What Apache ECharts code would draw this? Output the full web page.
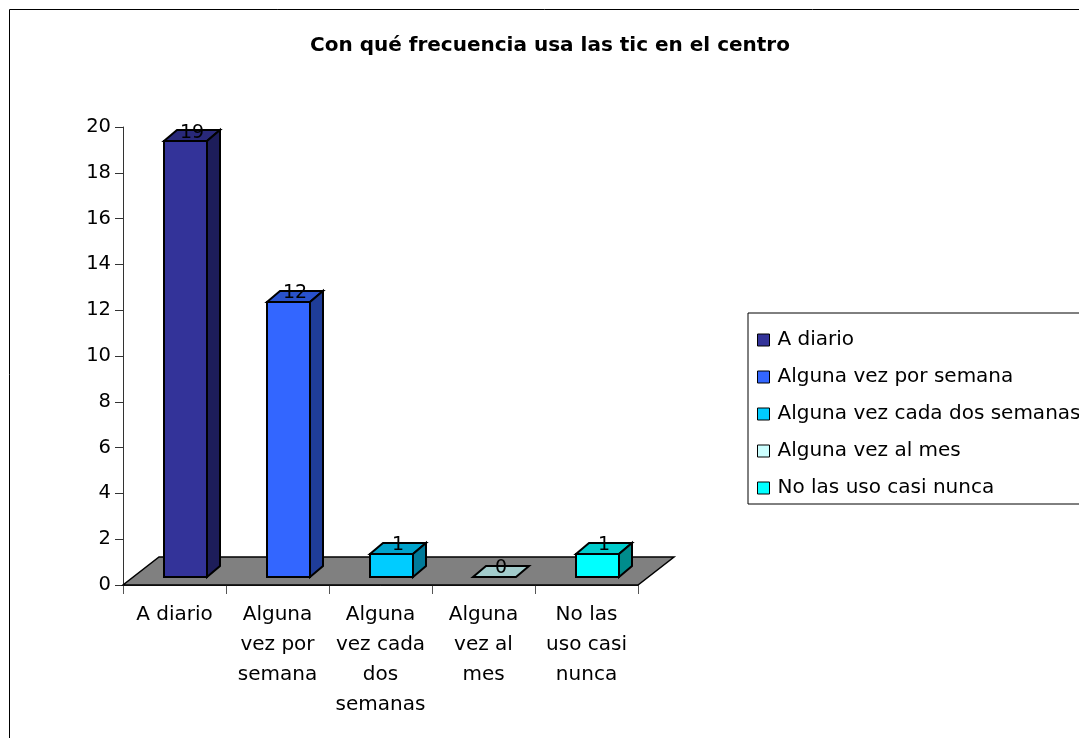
<!DOCTYPE html>
<html>
<head>
<meta charset="utf-8">
<script src="https://cdn.jsdelivr.net/npm/echarts@6/dist/echarts.min.js"></script>
<style>
  html, body { margin: 0; padding: 0; background: #fff; }
  #chart { width: 1079px; height: 738px; }
</style>
</head>
<body>
<div id="chart"></div>
<script>
const categories = [
  'A diario',
  'Alguna vez por semana',
  'Alguna vez cada dos semanas',
  'Alguna vez al mes',
  'No las uso casi nunca'
]
const xLabels = [
  'A diario',
  'Alguna\nvez por\nsemana',
  'Alguna\nvez cada\ndos\nsemanas',
  'Alguna\nvez al\nmes',
  'No las\nuso casi\nnunca'
]
const values = [19, 12, 1, 0, 1]
const yTicks = { min: 0, max: 20, interval: 2 }

const fronts = ['#333399', '#3366FF', '#00CCFF', '#CCFFFF', '#00FFFF']
const sides = ['#1d1d5a', '#1f3d99', '#007a99', '#7a9999', '#008c8c']
const tops = ['#29297a', '#2952cc', '#00a3cc', '#a3cccc', '#00cccc']

const FONT = 'DejaVu Sans'

// 3D look: front face pushed back into the floor, then a short box depth
const FRONT_DX = 11, FRONT_DY = -8.5
const BOX_DX = 13, BOX_DY = -11
const FLOOR_DX = 36, FLOOR_DY = -28

function pts(list) {
  return list.map((p) => [Math.round(p[0]), Math.round(p[1])])
}

function makeBox(i) {
  return function (params, api) {
    const idx = api.value(0)
    const val = api.value(1)
    const base = api.coord([idx, 0])
    const top = api.coord([idx, val])
    const band = api.size([1, 0])[0]
    const w = band * 0.41
    const x0 = base[0] - w / 2 + FRONT_DX
    const x1 = x0 + w
    const yb = base[1] + FRONT_DY
    const yt = top[1] + FRONT_DY
    const line = { stroke: '#000', lineWidth: 2, lineJoin: 'miter' }
    return {
      type: 'group',
      children: [
        {
          type: 'polygon',
          shape: { points: pts([[x0, yt], [x1, yt], [x1 + BOX_DX, yt + BOX_DY], [x0 + BOX_DX, yt + BOX_DY]]) },
          style: Object.assign({ fill: tops[i] }, line)
        },
        {
          type: 'polygon',
          shape: { points: pts([[x1, yb], [x1 + BOX_DX, yb + BOX_DY], [x1 + BOX_DX, yt + BOX_DY], [x1, yt]]) },
          style: Object.assign({ fill: sides[i] }, line),
          invisible: val === 0
        },
        {
          type: 'polygon',
          shape: { points: pts([[x0, yb], [x1, yb], [x1, yt], [x0, yt]]) },
          style: Object.assign({ fill: fronts[i] }, line),
          invisible: val === 0
        },
        {
          type: 'text',
          style: {
            text: String(val),
            x: x0 + w / 2 + BOX_DX / 2,
            y: yt + BOX_DY / 2 - 3,
            fill: '#000',
            font: '19px "' + FONT + '"',
            align: 'center',
            verticalAlign: 'middle'
          }
        }
      ]
    }
  }
}

function renderFloor(params, api) {
  const first = api.coord([0, 0])
  const band = api.size([1, 0])[0]
  const L = first[0] - band / 2
  const R = L + band * categories.length
  const y = first[1]
  return {
    type: 'polygon',
    shape: { points: pts([[L, y], [R, y], [R + FLOOR_DX, y + FLOOR_DY], [L + FLOOR_DX, y + FLOOR_DY]]) },
    style: { fill: '#808080', stroke: '#000', lineWidth: 1.5 }
  }
}

const barSeries = categories.map((name, i) => ({
  name,
  type: 'custom',
  clip: false,
  z: 3,
  itemStyle: { color: fronts[i], borderColor: '#000', borderWidth: 1 },
  renderItem: makeBox(i),
  encode: { x: 0, y: 1 },
  data: [[i, values[i]]]
}))

const chart = echarts.init(document.getElementById('chart'))

chart.setOption({
  animation: false,
  backgroundColor: '#fff',
  textStyle: { fontFamily: FONT },
  graphic: [
    {
      type: 'rect',
      shape: { x: 9.5, y: 9.5, width: 1200, height: 900 },
      style: { fill: 'none', stroke: '#000', lineWidth: 1 },
      silent: true
    }
  ],
  title: {
    text: 'Con qué frecuencia usa las tic en el centro',
    left: 550,
    top: 36,
    padding: 0,
    textAlign: 'center',
    textStyle: { fontFamily: FONT, fontSize: 20, fontWeight: 'bold', color: '#000' }
  },
  legend: {
    orient: 'vertical',
    left: 748,
    top: 313,
    padding: [17, 60, 6, 9],
    borderColor: '#000',
    borderWidth: 1,
    itemWidth: 12,
    itemHeight: 12,
    itemGap: 17,
    icon: 'rect',
    itemStyle: { borderColor: '#000', borderWidth: 1 },
    textStyle: { fontFamily: FONT, fontSize: 20, lineHeight: 20, color: '#000', padding: [0, 0, 0, 3] },
    data: categories
  },
  grid: { left: 123, top: 127, width: 515, height: 458 },
  xAxis: {
    type: 'category',
    data: xLabels,
    boundaryGap: true,
    axisLine: { lineStyle: { color: '#333', width: 1 } },
    axisTick: { show: true, length: 9, lineStyle: { color: '#555' } },
    axisLabel: {
      color: '#000',
      fontFamily: FONT,
      fontSize: 20,
      lineHeight: 30,
      margin: 15,
      interval: 0
    }
  },
  yAxis: {
    type: 'value',
    min: yTicks.min,
    max: yTicks.max,
    interval: yTicks.interval,
    axisLine: { show: true, lineStyle: { color: '#333', width: 1 } },
    axisTick: { show: true, length: 8, lineStyle: { color: '#333' } },
    splitLine: { show: false },
    axisLabel: { color: '#000', fontFamily: FONT, fontSize: 19.5, margin: 12 }
  },
  series: [
    {
      name: 'floor',
      type: 'custom',
      clip: false,
      z: 1,
      renderItem: renderFloor,
      encode: { x: 0, y: 1 },
      data: [[0, 0]]
    }
  ].concat(barSeries)
})
</script>
</body>
</html>
